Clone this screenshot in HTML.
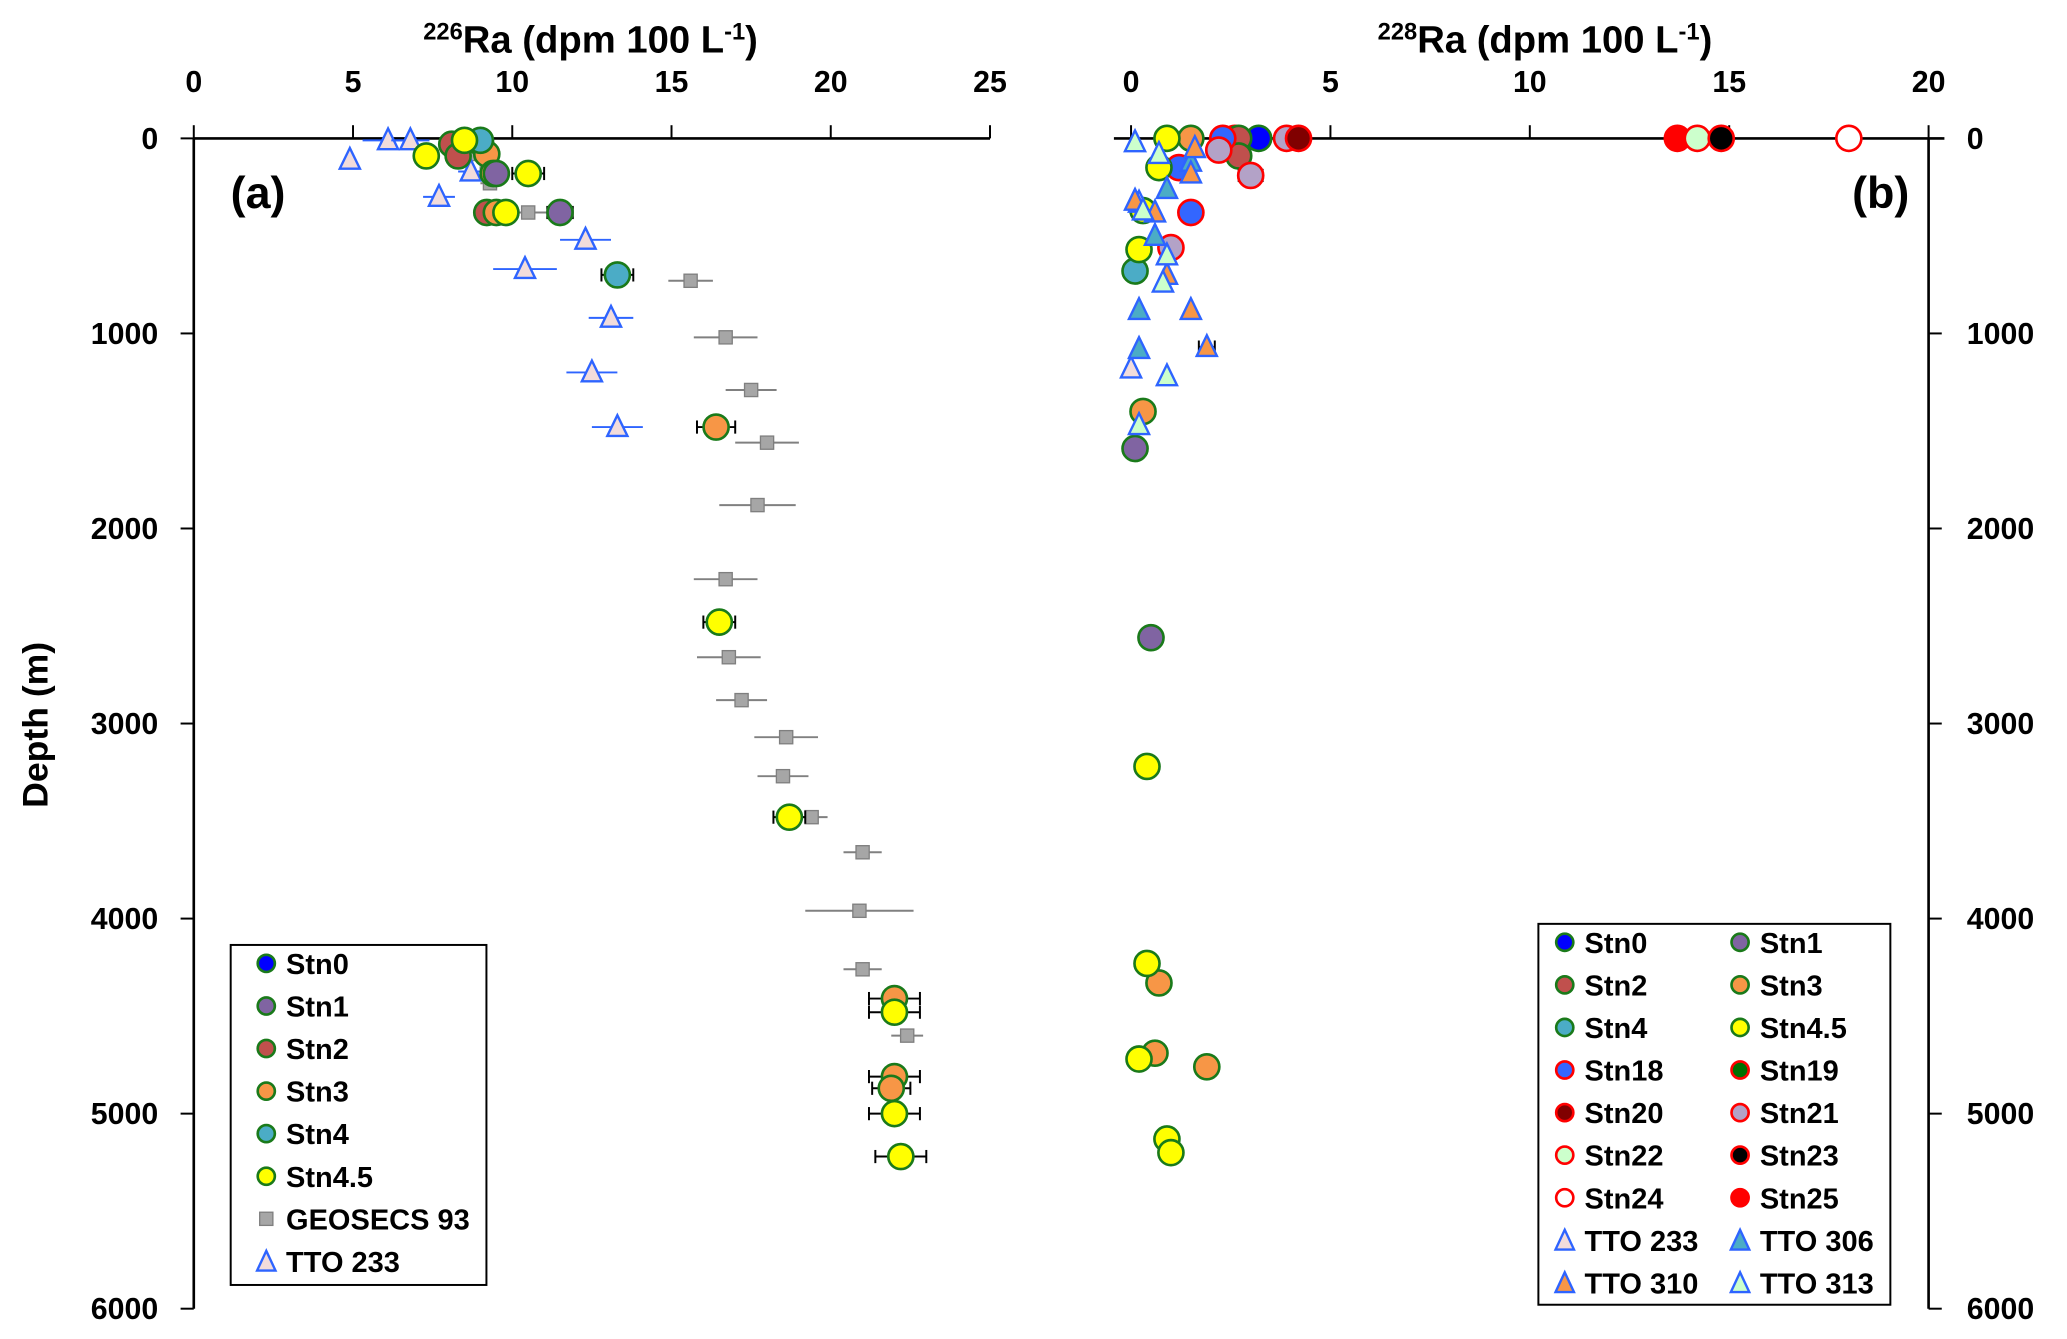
<!DOCTYPE html>
<html><head><meta charset="utf-8"><style>
html,body{margin:0;padding:0;background:#fff}
svg{display:block}
text{font-family:"Liberation Sans",sans-serif;font-weight:bold;fill:#000}
</style></head><body>
<svg id="chart" width="2067" height="1339" viewBox="0 0 1568 1016" preserveAspectRatio="none" xmlns="http://www.w3.org/2000/svg">
<g id="axes"></g><g id="marks"></g><g id="legends"></g>
</svg>
<script>
// ---- data ----
const depthTicks=[0,1000,2000,3000,4000,5000,6000];
const ra226Ticks=[0,5,10,15,20,25];
const ra228Ticks=[0,5,10,15,20];
// panel a (226Ra): [value, depth, err]
const aStn0=[[9.0,20,0]];
const aStn1=[[9.5,180,0.3],[11.5,380,0.4]];
const aStn2=[[8.1,30,0],[8.3,90,0],[9.2,380,0]];
const aStn3=[[9.2,80,0.3],[9.4,180,0],[9.5,380,0],[16.4,1480,0.6],[22,4410,0.8],[22,4810,0.8],[21.9,4870,0.6]];
const aStn4=[[9.0,10,0],[13.3,700,0.5]];
const aStn45=[[8.5,10,0],[7.3,90,0],[10.5,180,0.5],[9.8,380,0],[16.5,2480,0.5],[18.7,3480,0.5],[22,4480,0.8],[22,5000,0.8],[22.2,5220,0.8]];
const aGeosecs=[[8.2,0,0.2],[8.8,80,0.2],[9.2,180,0.2],[9.3,230,0.3],[10.5,380,0.6],[15.6,730,0.7],[16.7,1020,1.0],[17.5,1290,0.8],[18,1560,1.0],[17.7,1880,1.2],[16.7,2260,1.0],[16.8,2660,1.0],[17.2,2880,0.8],[18.6,3070,1.0],[18.5,3270,0.8],[19.4,3480,0.5],[21,3660,0.6],[20.9,3960,1.7],[21,4260,0.6],[22.4,4600,0.5]];
const aTTO233=[[4.9,110,0.2],[6.1,10,0.8],[6.8,10,0.6],[7.7,300,0.5],[8.7,170,0.4],[12.3,520,0.8],[10.4,670,1.0],[13.1,920,0.7],[12.5,1200,0.8],[13.3,1480,0.8]];
// panel b (228Ra)
const bStn0=[[3.2,0,0]];
const bStn1=[[0.1,1590,0],[0.5,2560,0]];
const bStn2=[[2.7,0,0],[2.7,90,0]];
const bStn3=[[1.5,0,0],[0.3,1400,0],[0.7,4330,0],[0.6,4690,0],[1.9,4760,0.2]];
const bStn4=[[0.1,680,0]];
const bStn45=[[0.9,0,0],[0.7,150,0],[0.3,370,0],[0.2,570,0],[0.4,3220,0],[0.4,4230,0],[0.2,4720,0],[0.9,5130,0],[1.0,5200,0]];
const bStn18=[[2.3,0,0],[1.2,150,0],[1.5,380,0]];
const bStn19=[[2.6,0,0]];
const bStn20=[[4.2,0,0]];
const bStn21=[[3.9,0,0],[2.2,60,0],[3.0,190,0.3],[1.0,560,0]];
const bStn22=[[14.2,0,0]];
const bStn23=[[14.8,0,0]];
const bStn24=[[18.0,0,0]];
const bStn25=[[13.7,0,0]];
const bTTO233=[[0.2,330,0],[0.0,1180,0]];
const bTTO306=[[1.5,120,0],[0.9,260,0],[0.6,500,0],[0.2,880,0],[0.2,1080,0]];
const bTTO310=[[1.6,50,0],[1.5,180,0],[0.1,320,0],[0.6,380,0],[0.9,700,0],[1.5,880,0],[1.9,1070,0.2]];
const bTTO313=[[0.1,20,0],[0.7,80,0],[0.3,370,0],[0.9,600,0],[0.8,740,0],[0.9,1220,0],[0.2,1470,0]];

// ---- scales ----
const yD=d=>105+d*0.148;
const xA=v=>147+v*24.16;
const xB=v=>858+v*30.25;
const NS="http://www.w3.org/2000/svg";
const axes=document.getElementById('axes'),marks=document.getElementById('marks'),legends=document.getElementById('legends');
function el(tag,attrs,parent,txt){const e=document.createElementNS(NS,tag);for(const k in attrs)e.setAttribute(k,attrs[k]);if(txt!==undefined)e.textContent=txt;parent.appendChild(e);return e;}

// axes
let t;
t=el('line',{x1:147,y1:105,x2:751,y2:105,stroke:'#000','stroke-width':2},axes);

t=el('line',{x1:147,y1:105,x2:147,y2:yD(6000),stroke:'#000','stroke-width':2},axes);

t=el('line',{x1:845,y1:105,x2:1475,y2:105,stroke:'#000','stroke-width':2},axes);

t=el('line',{x1:1463,y1:105,x2:1463,y2:yD(6000),stroke:'#000','stroke-width':2},axes);

ra226Ticks.forEach(v=>{el('line',{x1:xA(v),y1:95,x2:xA(v),y2:105,stroke:'#000','stroke-width':1.5},axes);
 t=el('text',{x:xA(v),y:70,'text-anchor':'middle','font-size':23},axes,v);
 });
ra228Ticks.forEach(v=>{el('line',{x1:xB(v),y1:95,x2:xB(v),y2:105,stroke:'#000','stroke-width':1.5},axes);
 t=el('text',{x:xB(v),y:70,'text-anchor':'middle','font-size':23},axes,v);
 });
depthTicks.forEach(d=>{el('line',{x1:137,y1:yD(d),x2:147,y2:yD(d),stroke:'#000','stroke-width':1.5},axes);
 t=el('text',{x:120,y:yD(d)+8,'text-anchor':'end','font-size':23},axes,d);
 
 el('line',{x1:1463,y1:yD(d),x2:1473,y2:yD(d),stroke:'#000','stroke-width':1.5},axes);
 t=el('text',{x:1492,y:yD(d)+8,'text-anchor':'start','font-size':23},axes,d);
 });
t=el('text',{x:448,y:40,'text-anchor':'middle','font-size':29},axes);
t.innerHTML='<tspan font-size="18" dy="-10">226</tspan><tspan dy="10">Ra (dpm 100 L</tspan><tspan font-size="18" dy="-10">-1</tspan><tspan dy="10">)</tspan>';

t=el('text',{x:1172,y:40,'text-anchor':'middle','font-size':29},axes);
t.innerHTML='<tspan font-size="18" dy="-10">228</tspan><tspan dy="10">Ra (dpm 100 L</tspan><tspan font-size="18" dy="-10">-1</tspan><tspan dy="10">)</tspan>';

t=el('text',{x:0,y:0,'text-anchor':'middle','font-size':27,transform:'translate(36,550) rotate(-90)'},axes,'Depth (m)');

t=el('text',{x:175,y:158,'font-size':34},axes,'(a)');

t=el('text',{x:1405,y:158,'font-size':34},axes,'(b)');


const styles={
 Stn0:['#0000ff','#1a7a1a'],Stn1:['#8064a2','#1a7a1a'],Stn2:['#c0504d','#1a7a1a'],Stn3:['#f79646','#1a7a1a'],
 Stn4:['#4bacc6','#1a7a1a'],Stn45:['#ffff00','#1a7a1a'],Stn18:['#3366ff','#ff0000'],Stn19:['#007000','#ff0000'],
 Stn20:['#800000','#ff0000'],Stn21:['#b3a2c7','#ff0000'],Stn22:['#ccffcc','#ff0000'],Stn23:['#000000','#ff0000'],
 Stn24:['#ffffff','#ff0000'],Stn25:['#ff0000','#ff0000'],
 TTO233:['#f2dcdb','#2e64ff'],TTO306:['#4bacc6','#2e64ff'],TTO310:['#f79646','#2e64ff'],TTO313:['#ccffcc','#2e64ff']};
function errbar(x,xs,v,d,e,color){if(!e)return;const y=yD(d);
 el('line',{x1:xs(v-e),y1:y,x2:xs(v+e),y2:y,stroke:color,'stroke-width':1.5},marks);
 if(color==='#000'){el('line',{x1:xs(v+e),y1:y-5,x2:xs(v+e),y2:y+5,stroke:'#000','stroke-width':1.5},marks);el('line',{x1:xs(v-e),y1:y-5,x2:xs(v-e),y2:y+5,stroke:'#000','stroke-width':1.5},marks);}}
function circles(arr,xs,key,name){arr.forEach(p=>{errbar(0,xs,p[0],p[1],p[2],'#000');
 const c=el('circle',{cx:xs(p[0]),cy:yD(p[1]),r:9.5,fill:styles[key][0],stroke:styles[key][1],'stroke-width':2},marks);
 
 });}
function tri(x,y,s,key){return el('polygon',{points:`${x},${y-s} ${x-s*0.85},${y+s*0.75} ${x+s*0.85},${y+s*0.75}`,fill:styles[key][0],stroke:styles[key][1],'stroke-width':1.8},marks);}
function triangles(arr,xs,key,name){arr.forEach(p=>{errbar(0,xs,p[0],p[1],p[2],xs===xA?'#2e64ff':'#000');
 const c=tri(xs(p[0]),yD(p[1]),9,key);
 
 });}
function squares(arr,xs,name){arr.forEach(p=>{errbar(0,xs,p[0],p[1],p[2],'#808080');
 const c=el('rect',{x:xs(p[0])-5,y:yD(p[1])-5,width:10,height:10,fill:'#a6a6a6',stroke:'#7f7f7f','stroke-width':1},marks);
 
 });}

// panel a
squares(aGeosecs,xA,'geosecs93-point');
triangles(aTTO233,xA,'TTO233','tto233-point');
circles(aStn0,xA,'Stn0','stn0-point');
circles(aStn2,xA,'Stn2','stn2-point');
circles(aStn3,xA,'Stn3','stn3-point');
circles(aStn1,xA,'Stn1','stn1-point');
circles(aStn4,xA,'Stn4','stn4-point');
circles(aStn45,xA,'Stn45','stn4.5-point');
// panel b
circles(bStn0,xB,'Stn0','stn0-point');
circles(bStn19,xB,'Stn19','stn19-point');
circles(bStn2,xB,'Stn2','stn2-point');
circles(bStn3,xB,'Stn3','stn3-point');
circles(bStn1,xB,'Stn1','stn1-point');
circles(bStn4,xB,'Stn4','stn4-point');
circles(bStn18,xB,'Stn18','stn18-point');
circles(bStn21,xB,'Stn21','stn21-point');
circles(bStn20,xB,'Stn20','stn20-point');
circles(bStn25,xB,'Stn25','stn25-point');
circles(bStn22,xB,'Stn22','stn22-point');
circles(bStn23,xB,'Stn23','stn23-point');
circles(bStn24,xB,'Stn24','stn24-point');
circles(bStn45,xB,'Stn45','stn4.5-point');
triangles(bTTO233,xB,'TTO233','tto233-point');
triangles(bTTO306,xB,'TTO306','tto306-point');
triangles(bTTO310,xB,'TTO310','tto310-point');
triangles(bTTO313,xB,'TTO313','tto313-point');

// legends
function legendEntry(x,y,key,label,kind){
 let m;
 if(kind==='c')m=el('circle',{cx:x,cy:y,r:6.5,fill:styles[key][0],stroke:styles[key][1],'stroke-width':2},legends);
 else if(kind==='s')m=el('rect',{x:x-5,y:y-5,width:10,height:10,fill:'#a6a6a6',stroke:'#7f7f7f'},legends);
 else {m=el('polygon',{points:`${x},${y-8} ${x-7},${y+7} ${x+7},${y+7}`,fill:styles[key][0],stroke:styles[key][1],'stroke-width':1.8},legends);}
 
 
 const tx=el('text',{x:x+15,y:y+8,'font-size':22},legends,label);
 
 }
t=el('rect',{x:175,y:717,width:194,height:258,fill:'#fff',stroke:'#000','stroke-width':1.5},legends);

[['Stn0','Stn0','c'],['Stn1','Stn1','c'],['Stn2','Stn2','c'],['Stn3','Stn3','c'],['Stn4','Stn4','c'],['Stn45','Stn4.5','c'],['G','GEOSECS 93','s'],['TTO233','TTO 233','t']].forEach((e,i)=>legendEntry(202,731+i*32.3,e[0],e[1],e[2]));
t=el('rect',{x:1167,y:701,width:267,height:289,fill:'#fff',stroke:'#000','stroke-width':1.5},legends);

const lb=[['Stn0','Stn0','c'],['Stn1','Stn1','c'],['Stn2','Stn2','c'],['Stn3','Stn3','c'],['Stn4','Stn4','c'],['Stn45','Stn4.5','c'],['Stn18','Stn18','c'],['Stn19','Stn19','c'],['Stn20','Stn20','c'],['Stn21','Stn21','c'],['Stn22','Stn22','c'],['Stn23','Stn23','c'],['Stn24','Stn24','c'],['Stn25','Stn25','c'],['TTO233','TTO 233','t'],['TTO306','TTO 306','t'],['TTO310','TTO 310','t'],['TTO313','TTO 313','t']];
lb.forEach((e,i)=>legendEntry(1187+(i%2)*133,715+Math.floor(i/2)*32.3,e[0],e[1],e[2]));
</script>
</body></html>
